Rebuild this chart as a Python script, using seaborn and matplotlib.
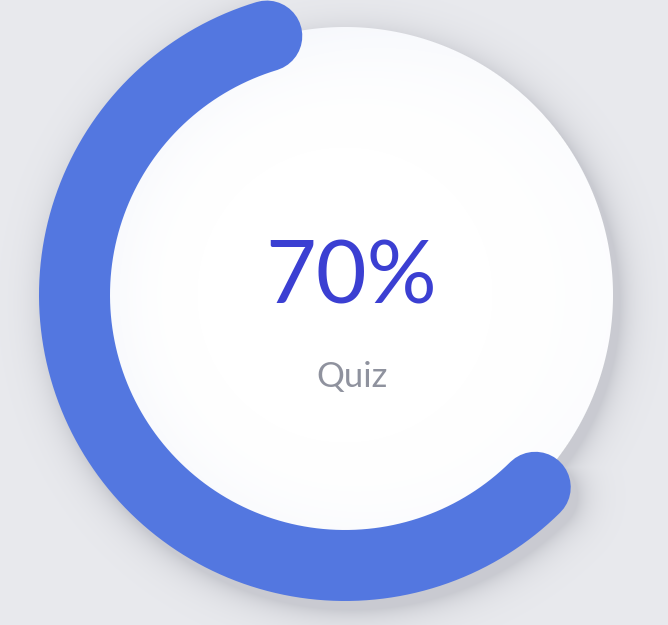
import numpy as np
import pandas as pd
import matplotlib
matplotlib.use('Agg')
import matplotlib.pyplot as plt
import seaborn as sns

# data
progress = 70
label = 'Quiz'
value_text = str(progress) + '%'

# gauge layout (pixels)
W, H = 668, 625
cx, cy = 345, 295
ring_r = 270.5
ring_w = 71
disc_r = 268
start_deg = 106.8
full_sweep = 297.0

bg_col = np.array([233, 234, 238]) / 255.
shadow_col = np.array([150, 152, 162]) / 255.
arc_col = '#5377e0'

sns.set_theme(style='white')
plt.rcParams['font.family'] = ['Lato', 'DejaVu Sans']

end_deg = start_deg + full_sweep * progress / 100.0
t = np.radians(np.linspace(start_deg, end_deg, 400))
df = pd.DataFrame({'x': cx + ring_r * np.cos(t), 'y': cy - ring_r * np.sin(t)})

# background with soft shadow of disc + arc
yy, xx = np.mgrid[0:H, 0:W] + 0.5
sx, sy = xx - 7, yy - 9
d_disc = np.hypot(sx - cx, sy - cy) - disc_r
ang = np.degrees(np.arctan2(-(sy - cy), sx - cx)) % 360
ang = np.where(ang < start_deg, ang + 360, ang)
ang_c = np.radians(np.clip(ang, start_deg, end_deg))
px = cx + ring_r * np.cos(ang_c)
py = cy - ring_r * np.sin(ang_c)
d_arc = np.hypot(sx - px, sy - py) - ring_w / 2
d = np.maximum(np.minimum(d_disc, d_arc), 0)
a = 0.38 * np.exp(-d / 14.0)
img = bg_col * (1 - a[..., None]) + shadow_col * a[..., None]

# white disc with faint inner tint
r = np.hypot(xx - cx, yy - cy)
cov = np.clip(disc_r - r + 0.5, 0, 1)[..., None]
tint = np.clip((r / disc_r - 0.55) / 0.45, 0, 1) ** 2
tint = tint * np.clip(0.6 - 0.4 * (xx - cx) / disc_r, 0, 1)
disc = np.ones((H, W, 3)) * (1 - 0.05 * tint[..., None]) + np.array([0, 0.01, 0.035]) * tint[..., None]
disc = np.clip(disc, 0, 1)
img = img * (1 - cov) + disc * cov

fig = plt.figure(figsize=(W / 100, H / 100), dpi=100)
ax = fig.add_axes([0, 0, 1, 1])
ax.imshow(img, extent=(0, W, H, 0), interpolation='none')

sns.lineplot(data=df, x='x', y='y', sort=False, estimator=None, ax=ax,
             color=arc_col, linewidth=ring_w * 0.72, solid_capstyle='round')

ax.text(351, 303, value_text, ha='center', va='baseline', fontsize=63,
        color='#3b3fd2')
ax.text(352, 387, label, ha='center', va='baseline', fontsize=25,
        color='#8f929e')

ax.set_xlim(0, W)
ax.set_ylim(H, 0)
ax.axis('off')

plt.savefig('out.png', dpi=100)
